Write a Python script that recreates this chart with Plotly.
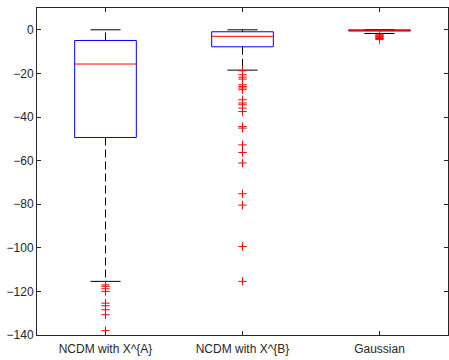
import plotly.graph_objects as go

categories = ["NCDM with X^{A}", "NCDM with X^{B}", "Gaussian"]
positions = [1, 2, 3]
upper_whisker = [0.0, 0.0, 0.0]
q3 = [-4.9, -0.9, -0.05]
median = [-15.7, -3.0, -0.25]
q1 = [-49.4, -7.8, -0.55]
lower_whisker = [-115.4, -18.5, -1.7]
outliers = [
    [-117.0, -117.7, -118.8, -120.0, -125.4, -126.6, -128.4, -130.7, -138.0],
    [-18.8, -20.6, -21.7, -22.6, -25.2, -26.0, -26.7, -27.5, -32.1, -33.6, -34.4,
     -35.9, -37.5, -44.4, -45.1, -52.8, -56.3, -61.1, -75.2, -80.4, -99.4, -115.4],
    [-2.0, -2.4, -2.8, -3.2, -3.6, -4.0, -4.5],
]
y_ticks = [0, -20, -40, -60, -80, -100, -120, -140]

BOX_HW = 0.225
CAP_HW = 0.11
BLUE = "#0000ff"
RED = "#ff0000"
WHISK = "#000000"

fig = go.Figure()
for i, p in enumerate(positions):
    # whiskers (dashed)
    fig.add_trace(go.Scatter(x=[p, p, None, p, p], y=[q3[i], upper_whisker[i], None, q1[i], lower_whisker[i]],
                             mode="lines", line=dict(color=WHISK, width=1, dash="8px,4px"),
                             hoverinfo="skip", showlegend=False))
    # caps
    fig.add_trace(go.Scatter(x=[p - CAP_HW, p + CAP_HW, None, p - CAP_HW, p + CAP_HW],
                             y=[upper_whisker[i], upper_whisker[i], None, lower_whisker[i], lower_whisker[i]],
                             mode="lines", line=dict(color=WHISK, width=1),
                             hoverinfo="skip", showlegend=False))
    # box
    fig.add_trace(go.Scatter(x=[p - BOX_HW, p + BOX_HW, p + BOX_HW, p - BOX_HW, p - BOX_HW],
                             y=[q1[i], q1[i], q3[i], q3[i], q1[i]],
                             mode="lines", line=dict(color=BLUE, width=1),
                             hoverinfo="skip", showlegend=False))
    # median
    fig.add_trace(go.Scatter(x=[p - BOX_HW, p + BOX_HW], y=[median[i], median[i]],
                             mode="lines", line=dict(color=RED, width=1),
                             hoverinfo="skip", showlegend=False))
    # outliers
    fig.add_trace(go.Scatter(x=[p] * len(outliers[i]), y=outliers[i], mode="markers",
                             marker=dict(symbol="cross-thin", size=6, line=dict(color=RED, width=1), color=RED),
                             hoverinfo="skip", showlegend=False))

axis_common = dict(showline=True, linecolor="#262626", linewidth=1, mirror="ticks",
                   ticks="inside", ticklen=4, tickcolor="#262626", showgrid=False, zeroline=False,
                   tickfont=dict(family="Liberation Sans, Arial, sans-serif", size=12, color="#262626"))

fig.update_layout(
    width=449, height=360,
    margin=dict(l=37, r=1, t=8, b=25),
    plot_bgcolor="white", paper_bgcolor="white",
    xaxis=dict(range=[0.5, 3.5], tickvals=positions, ticktext=categories, ticklabelstandoff=3, **axis_common),
    yaxis=dict(range=[-140, 10], tickvals=y_ticks, **axis_common),
)
fig.write_html("out.html")
